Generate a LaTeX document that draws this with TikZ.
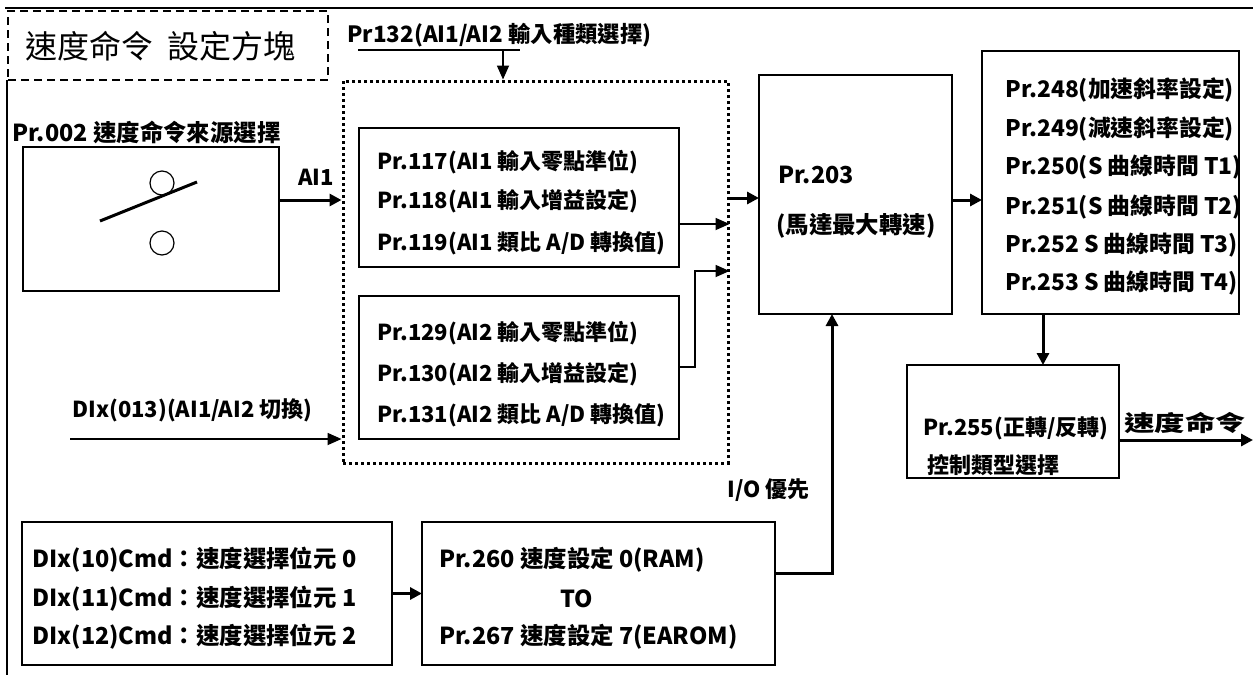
\documentclass[tikz,border=0pt]{standalone}
\usepackage{fontspec}
\setmainfont{Noto Sans CJK TC}
\usetikzlibrary{arrows.meta,fit}
\begin{document}
\begin{tikzpicture}[x=0.5pt,y=-0.5pt,
  box/.style={draw,line width=0.75pt,inner sep=0pt,outer sep=0pt},
  txt/.style={anchor=west,inner sep=0pt,font=\fontsize{11}{12}\selectfont\bfseries},
  btxt/.style={anchor=west,inner sep=0pt,font=\fontsize{11.7}{13}\selectfont\bfseries},
  arr/.style={line width=1.5pt,-{Triangle[length=6pt,width=6pt]}},
  tarr/.style={line width=0.9pt,-{Triangle[length=7pt,width=6pt]}}]
\useasboundingbox (0,0) rectangle (1253,675);
% frame
\draw[line width=1pt] (7,80) -- (7,675);
\draw[line width=1pt] (5,8) -- (1253,8);
\node[draw,line width=1pt,dash pattern=on 4pt off 2.5pt,inner sep=0pt,fit={(8,11)(328,80)}] (title) {};
\node[anchor=west,inner sep=0pt,font=\fontsize{16}{18}\selectfont] (titletxt) at (25,46) {速度命令\ \ 設定方塊};
% switch box
\node[btxt] (swlab) at (12,132) {Pr.002 速度命令來源選擇};
\node[box,fit={(23,147)(279,291)}] (sw) {};
\node[draw,circle,line width=0.6pt,minimum size=12pt,inner sep=0pt] (c1) at (162,183) {};
\node[draw,circle,line width=0.6pt,minimum size=12pt,inner sep=0pt] (c2) at (162,243) {};
\draw[line width=1.5pt] (100,221) -- (197,182);
\node[txt] (ai1lab) at (298,177) {AI1};
% dotted block
\node[draw,line width=1.5pt,dash pattern=on 1.5pt off 1.5pt,inner sep=0pt,fit={(343,81)(728,463)}] (ai) {};
\node[txt,font=\fontsize{11.2}{12}\selectfont\bfseries] (p132) at (347,35) {Pr132(AI1/AI2 輸入種類選擇)};
\coordinate (u1) at (358,50);
\coordinate (u2) at (520,50);
\coordinate (u3) at (503,50);
\draw[line width=0.9pt] (u1) -- (u2);
\draw[tarr] (u3) -- (u3 |- ai.north);
\node[box,fit={(359,128)(679,267)}] (aione) {};
\node[txt] at (377,162) {Pr.117(AI1 輸入零點準位)};
\node[txt] at (377,201) {Pr.118(AI1 輸入增益設定)};
\node[txt] at (377,243) {Pr.119(AI1 類比 A/D 轉換值)};
\node[box,fit={(359,296)(679,439)}] (aitwo) {};
\node[txt] at (377,333) {Pr.129(AI2 輸入零點準位)};
\node[txt] at (377,374) {Pr.130(AI2 輸入增益設定)};
\node[txt] at (377,415) {Pr.131(AI2 類比 A/D 轉換值)};
\node[txt] (dixlab) at (72,410) {DIx(013)(AI1/AI2 切換)};
\coordinate (dix) at (70,439);
\draw[tarr] (dix) -- (dix -| ai.west);
\coordinate (a1) at (279,200);
\draw[arr] (a1) -- (a1 -| ai.west);
\coordinate (c4) at (690,224);
\draw[tarr] (aione.east |- c4) -- (c4 -| ai.east);
\coordinate (c5a) at (695,367);
\coordinate (c5b) at (695,271);
\draw[tarr] (aitwo.east |- c5a) -- (c5a) -- (c5b) -- (c5b -| ai.east);
% Pr203
\node[box,fit={(759,75)(952,314)}] (pr) {};
\node[btxt] at (778,175) {Pr.203};
\node[btxt] at (776,226) {(馬達最大轉速)};
\coordinate (c6) at (740,198);
\draw[arr] (ai.east |- c6) -- (pr.west |- c6);
% right box
\node[box,fit={(982,51)(1239,314)}] (rb) {};
\node[txt,font=\fontsize{11.4}{12}\selectfont\bfseries] at (1005,90) {Pr.248(加速斜率設定)};
\node[txt,font=\fontsize{11.4}{12}\selectfont\bfseries] at (1005,129) {Pr.249(減速斜率設定)};
\node[txt,font=\fontsize{11.4}{12}\selectfont\bfseries] at (1005,167) {Pr.250(S 曲線時間 T1)};
\node[txt,font=\fontsize{11.4}{12}\selectfont\bfseries] at (1005,207) {Pr.251(S 曲線時間 T2)};
\node[txt,font=\fontsize{11.4}{12}\selectfont\bfseries] at (1005,245) {Pr.252 S 曲線時間 T3)};
\node[txt,font=\fontsize{11.4}{12}\selectfont\bfseries] at (1005,283) {Pr.253 S 曲線時間 T4)};
\coordinate (c7) at (965,200);
\draw[arr] (pr.east |- c7) -- (rb.west |- c7);
% Pr255
\node[box,fit={(907,365)(1119,478)}] (pr255) {};
\node[txt] at (923,428) {Pr.255(正轉/反轉)};
\node[txt] at (927,465) {控制類型選擇};
\coordinate (c8) at (1043,340);
\draw[arr] (rb.south -| c8) -- (pr255.north -| c8);
\coordinate (out) at (1253,440);
\draw[arr] (pr255.east |- out) -- (out);
\node[anchor=west,inner sep=0pt,font=\fontsize{11}{12}\selectfont\bfseries] (outlab) at (1124,423) {\scalebox{1.38}[1]{速度命令}};
% bottom
\node[box,fit={(22,522)(392,665)}] (bl) {};
\node[btxt] at (32,560) {DIx(10)Cmd：速度選擇位元 0};
\node[btxt] at (32,599) {DIx(11)Cmd：速度選擇位元 1};
\node[btxt] at (32,637) {DIx(12)Cmd：速度選擇位元 2};
\node[box,fit={(422,522)(775,665)}] (mid) {};
\node[btxt] at (439,560) {Pr.260 速度設定 0(RAM)};
\node[btxt,anchor=center] at (577,599) {TO};
\node[btxt] at (439,637) {Pr.267 速度設定 7(EAROM)};
\draw[arr] (bl.east) -- (mid.west);
\coordinate (io) at (832,573);
\draw[arr] (mid.east |- io) -- (io) -- (io |- pr.south);
\node[txt] (iolab) at (727,490) {I/O 優先};
\end{tikzpicture}
\end{document}
